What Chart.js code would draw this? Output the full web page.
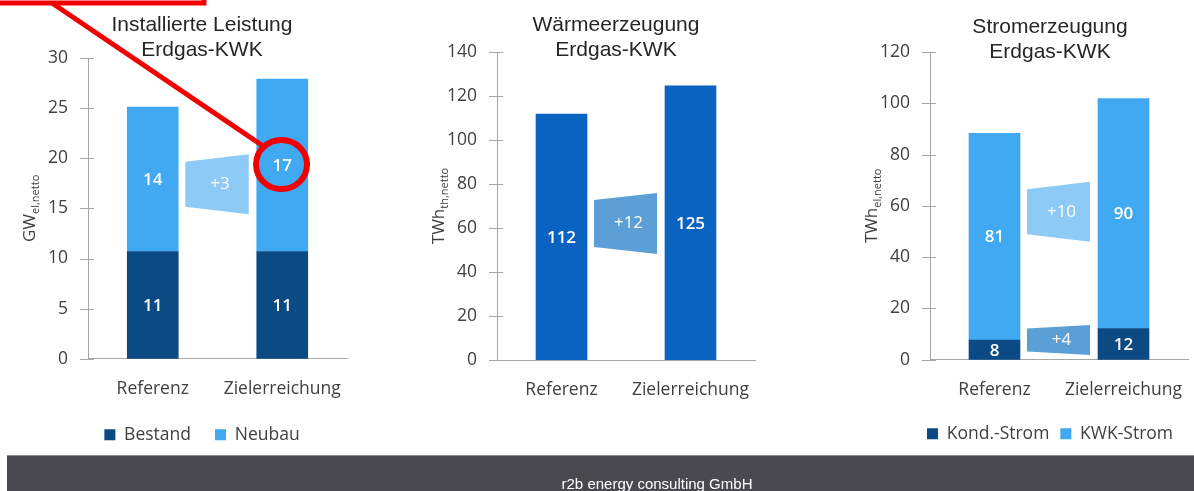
<!DOCTYPE html>
<html lang="de">
<head>
<meta charset="UTF-8">
<title>Erdgas-KWK</title>
<script src="https://cdn.jsdelivr.net/npm/chart.js"></script>
<style>
    body { margin: 0; background: #fff; width: 1194px; height: 491px; overflow: hidden; position: relative; }
    canvas { position: absolute; top: 0; }
    #leistung { left: 0; }
    #waerme { left: 400px; }
    #strom { left: 800px; }
    .fuss { position: absolute; left: 7px; top: 455px; width: 1187px; height: 36px; background: #4a4950; border-top: 1px solid #8c8c92; box-sizing: border-box; }
    .fuss-text { position: absolute; left: 0; top: 476px; width: 1314px; text-align: center; color: #fff; font: 15px 'Liberation Sans', Arial, sans-serif; line-height: 16px; }
    .markierung { position: absolute; left: 0; top: 0; }
</style>
</head>
<body>

<canvas id="leistung" width="404" height="491"></canvas>
<canvas id="waerme" width="432" height="491"></canvas>
<canvas id="strom" width="440" height="491"></canvas>

<div class="fuss"></div>
<div class="fuss-text">r2b energy consulting GmbH</div>

<svg class="markierung" width="1194" height="491">
    <rect x="-20" y="-40" width="224" height="43" fill="none" stroke="#f20000" stroke-width="5"/>
    <line x1="52" y1="3" x2="263" y2="146" stroke="#f20000" stroke-width="5"/>
    <ellipse cx="281.5" cy="164.5" rx="25.5" ry="24.5" fill="none" stroke="#f20000" stroke-width="6"/>
</svg>

<script>
    // Daten
    const kategorien = ['Referenz', 'Zielerreichung'];

    const bestand = [10.7, 10.7];
    const neubau = [14.4, 17.2];
    const leistungTicks = [0, 5, 10, 15, 20, 25, 30];
    const leistungPfeil = [17.4];
    const leistungDelta = ['+3'];

    const waerme = [111.8, 124.6];
    const waermeTicks = [0, 20, 40, 60, 80, 100, 120, 140];
    const waermePfeil = [62];
    const waermeDelta = ['+12'];

    const kondStrom = [7.7, 12.2];
    const kwkStrom = [80.6, 89.6];
    const stromTicks = [0, 20, 40, 60, 80, 100, 120];
    const stromPfeil = [57.7, 7.7];
    const stromDelta = ['+10', '+4'];

    const dunkelblau = '#0c4a84';
    const hellblau = '#40a9f2';
    const waermeblau = '#0b63c1';
    const pfeilHell = '#8dcaf6';
    const pfeilMittel = '#5b9fd6';
    const achsenFarbe = '#a6a6a6';
    const textFarbe = '#404040';
    const schrift = "'Open Sans', sans-serif";

    // Trapez-Pfeile zwischen den Balken
    const pfeilPlugin = {
        id: 'pfeile',
        afterDatasetsDraw(chart, args, opts) {
            const ctx = chart.ctx;
            const y = chart.scales.y;
            const bars = chart.getDatasetMeta(0).data;
            const x0 = bars[0].x + bars[0].width / 2 + 7;
            const x1 = bars[1].x - bars[1].width / 2 - 8;
            ctx.save();
            opts.werte.forEach((v, i) => {
                const cy = y.getPixelForValue(v);
                const hl = opts.links[i], hr = opts.rechts[i];
                ctx.beginPath();
                ctx.moveTo(x0, cy - hl);
                ctx.lineTo(x1, cy - hr);
                ctx.lineTo(x1, cy + hr);
                ctx.lineTo(x0, cy + hl);
                ctx.closePath();
                ctx.fillStyle = opts.farben[i];
                ctx.fill();
                ctx.fillStyle = '#fff';
                ctx.font = '17px ' + schrift;
                ctx.textAlign = 'center';
                ctx.textBaseline = 'middle';
                ctx.fillText(opts.texte[i], (x0 + x1) / 2 + 3, cy);
            });
            ctx.restore();
        }
    };

    // Werte in den Balken
    const wertePlugin = {
        id: 'werte',
        afterDatasetsDraw(chart) {
            const ctx = chart.ctx;
            ctx.save();
            ctx.fillStyle = '#fff';
            ctx.font = '600 17px ' + schrift;
            ctx.textAlign = 'center';
            ctx.textBaseline = 'middle';
            chart.data.datasets.forEach((ds, d) => {
                chart.getDatasetMeta(d).data.forEach((bar, i) => {
                    ctx.fillText(Math.round(ds.data[i]), bar.x, (bar.y + bar.base) / 2 + 1);
                });
            });
            ctx.restore();
        }
    };

    // Teilstriche über die Achse und Achsentitel mit Index
    const achsenPlugin = {
        id: 'achse',
        afterDraw(chart, args, opts) {
            const ctx = chart.ctx;
            const y = chart.scales.y;
            const ax = chart.chartArea.left;
            ctx.save();
            ctx.strokeStyle = achsenFarbe;
            ctx.lineWidth = 1;
            y.ticks.forEach(t => {
                const py = Math.round(y.getPixelForValue(t.value)) + 0.5;
                ctx.beginPath();
                ctx.moveTo(ax - 8, py);
                ctx.lineTo(ax + 6, py);
                ctx.stroke();
            });
            const cy = (chart.chartArea.top + chart.chartArea.bottom) / 2;
            ctx.translate(ax - 58, cy);
            ctx.rotate(-Math.PI / 2);
            ctx.fillStyle = textFarbe;
            ctx.textBaseline = 'middle';
            ctx.textAlign = 'left';
            ctx.font = '17px ' + schrift;
            const wh = ctx.measureText(opts.haupt).width;
            ctx.font = '11px ' + schrift;
            const wi = ctx.measureText(opts.index).width;
            const start = -(wh + wi) / 2;
            ctx.font = '17px ' + schrift;
            ctx.fillText(opts.haupt, start, 0);
            ctx.font = '11px ' + schrift;
            ctx.fillText(opts.index, start + wh, 6);
            ctx.restore();
        }
    };

    function optionen(o) {
        return {
            responsive: false,
            animation: false,
            layout: { padding: o.padding },
            datasets: { bar: { barThickness: 51 } },
            scales: {
                x: {
                    stacked: true,
                    grid: { display: false },
                    border: { color: achsenFarbe },
                    ticks: { padding: 12, color: textFarbe, font: { family: schrift, size: 17.5 } },
                    afterFit: s => { s.height = o.xHoehe; }
                },
                y: {
                    stacked: true,
                    min: o.ticks[0],
                    max: o.ticks[o.ticks.length - 1],
                    grid: { display: false },
                    border: { color: achsenFarbe },
                    ticks: { stepSize: o.ticks[1] - o.ticks[0], padding: 12, color: textFarbe, font: { family: schrift, size: 17.5 } },
                    afterFit: s => { s.width = o.yBreite; }
                },
                // leere rechte Achse, damit Titel und Legende wie im Original sitzen
                rand: {
                    position: 'right',
                    grid: { display: false },
                    border: { display: false },
                    ticks: { display: false },
                    afterFit: s => { s.width = o.rand; }
                }
            },
            plugins: {
                title: {
                    display: true,
                    text: o.titel,
                    color: '#262626',
                    font: { family: "'Liberation Sans', Arial, sans-serif", size: 21, weight: 'normal', lineHeight: 25 / 21 },
                    padding: o.titelPadding
                },
                legend: {
                    display: o.legende !== false,
                    position: 'bottom',
                    labels: { boxWidth: 11, boxHeight: 11, padding: o.legende || 10, color: textFarbe, font: { family: schrift, size: 17.5 } }
                },
                tooltip: { enabled: false },
                pfeile: o.pfeile,
                achse: o.achse
            }
        };
    }

    new Chart(document.getElementById('leistung'), {
        type: 'bar',
        data: {
            labels: kategorien,
            datasets: [
                { label: 'Bestand', data: bestand, backgroundColor: dunkelblau },
                { label: 'Neubau', data: neubau, backgroundColor: hellblau }
            ]
        },
        options: optionen({
            padding: { left: 0, right: 0, top: 0, bottom: 37.5 },
            xHoehe: 43.25, yBreite: 88, rand: 57,
            ticks: leistungTicks,
            titel: ['Installierte Leistung', 'Erdgas-KWK'],
            titelPadding: { top: 12.5, bottom: -4.5 },
            legende: 24,
            pfeile: { werte: leistungPfeil, texte: leistungDelta, farben: [pfeilHell], links: [22.5], rechts: [30] },
            achse: { haupt: 'GW', index: 'el,netto' }
        }),
        plugins: [pfeilPlugin, wertePlugin, achsenPlugin]
    });

    new Chart(document.getElementById('waerme'), {
        type: 'bar',
        data: {
            labels: kategorien,
            datasets: [
                { label: 'Wärme', data: waerme, backgroundColor: waermeblau }
            ]
        },
        options: optionen({
            padding: { left: 0, right: 0, top: 0, bottom: 40 },
            xHoehe: 91, yBreite: 97, rand: 77,
            ticks: waermeTicks,
            titel: ['Wärmeerzeugung', 'Erdgas-KWK'],
            titelPadding: { top: 12.5, bottom: -10.5 },
            legende: false,
            pfeile: { werte: waermePfeil, texte: waermeDelta, farben: [pfeilMittel], links: [23.5], rechts: [30.5] },
            achse: { haupt: 'TWh', index: 'th,netto' }
        }),
        plugins: [pfeilPlugin, wertePlugin, achsenPlugin]
    });

    new Chart(document.getElementById('strom'), {
        type: 'bar',
        data: {
            labels: kategorien,
            datasets: [
                { label: 'Kond.-Strom', data: kondStrom, backgroundColor: dunkelblau },
                { label: 'KWK-Strom', data: kwkStrom, backgroundColor: hellblau }
            ]
        },
        options: optionen({
            padding: { left: 60, right: 0, top: 0, bottom: 38.5 },
            xHoehe: 54.25, yBreite: 70, rand: 52,
            ticks: stromTicks,
            titel: ['Stromerzeugung', 'Erdgas-KWK'],
            titelPadding: { top: 14.5, bottom: -12.5 },
            legende: 11,
            pfeile: { werte: stromPfeil, texte: stromDelta, farben: [pfeilHell, pfeilMittel], links: [22.5, 11.5], rechts: [30, 15] },
            achse: { haupt: 'TWh', index: 'el,netto' }
        }),
        plugins: [pfeilPlugin, wertePlugin, achsenPlugin]
    });
</script>

</body>
</html>
